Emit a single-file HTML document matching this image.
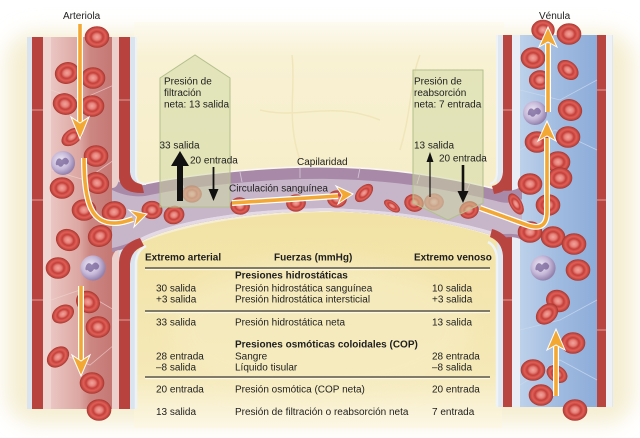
<!DOCTYPE html>
<html>
<head>
<meta charset="utf-8">
<style>
  html,body{margin:0;padding:0;background:#fff;}
  svg{display:block;}
  text{font-family:"Liberation Sans", Arial, sans-serif;font-size:10px;fill:#1e1e1e;}
  .b{font-weight:bold;}
</style>
</head>
<body>
<svg width="640" height="438" viewBox="0 0 640 438" xmlns="http://www.w3.org/2000/svg">
<defs>
  <radialGradient id="rbcg" cx="0.5" cy="0.5" r="0.5">
    <stop offset="0" stop-color="#f2a49c"/>
    <stop offset="0.28" stop-color="#e6827a"/>
    <stop offset="0.5" stop-color="#c43f39"/>
    <stop offset="0.72" stop-color="#df5f57"/>
    <stop offset="1" stop-color="#b23a35"/>
  </radialGradient>
  <radialGradient id="wbcg" cx="0.4" cy="0.4" r="0.6">
    <stop offset="0" stop-color="#f0ecf5"/>
    <stop offset="0.6" stop-color="#c6b8d8"/>
    <stop offset="1" stop-color="#9482ad"/>
  </radialGradient>
  <linearGradient id="artL" x1="0" x2="1" y1="0" y2="0">
    <stop offset="0" stop-color="#eac6c2"/>
    <stop offset="0.45" stop-color="#dca6a1"/>
    <stop offset="0.6" stop-color="#cd8884"/>
    <stop offset="1" stop-color="#c47572"/>
  </linearGradient>
  <linearGradient id="venL" x1="0" x2="1" y1="0" y2="0">
    <stop offset="0" stop-color="#bdd1ea"/>
    <stop offset="0.5" stop-color="#a0bbe0"/>
    <stop offset="1" stop-color="#8dacd9"/>
  </linearGradient>
  <linearGradient id="tisB" x1="0" x2="0" y1="0" y2="1">
    <stop offset="0" stop-color="#f2e2a4"/>
    <stop offset="0.75" stop-color="#f5e9b8"/>
    <stop offset="1" stop-color="#fcf7e6"/>
  </linearGradient>
  <linearGradient id="tisT" x1="0" x2="0" y1="0" y2="1">
    <stop offset="0" stop-color="#fdfaf0"/>
    <stop offset="0.2" stop-color="#f8f1d3"/>
    <stop offset="1" stop-color="#f6edc8"/>
  </linearGradient>
  <filter id="blur" x="-20%" y="-20%" width="140%" height="140%"><feGaussianBlur stdDeviation="10"/></filter>
  <g id="rbc"><ellipse rx="12" ry="10.5" fill="url(#rbcg)" stroke="#a8392f" stroke-width="0.6"/></g>
  <g id="wbc"><circle r="12" fill="url(#wbcg)"/><path d="M-7,-1 q2,-6 6,-2 q4,-5 7,1 q-1,5 -5,3 q-3,5 -6,1 q-3,1 -2,-3z" fill="#6f5a93" opacity="0.7"/></g>
</defs>

<!-- background -->
<rect width="640" height="438" fill="#ffffff"/>
<rect x="6" y="32" width="628" height="392" rx="30" fill="#f5eed2" filter="url(#blur)"/>
<rect x="134" y="22" width="370" height="180" fill="url(#tisT)"/>
<g stroke="#efe3b4" stroke-width="1.5" fill="none" opacity="0.8">
  <path d="M292,55 C296,90 286,120 300,160"/>
  <path d="M420,55 C410,80 412,110 400,150"/>
  <path d="M260,110 C300,120 330,100 380,120"/>
</g>

<!-- tissue below capillary -->
<path d="M134,246 C180,224 260,213 330,212 C400,213 460,224 502,240 L502,428 L134,428 Z" fill="url(#tisB)"/>
<ellipse cx="320" cy="330" rx="150" ry="70" fill="#f7edc4" opacity="0.6" filter="url(#blur)"/>

<!-- ARTERIOLE -->
<rect x="27" y="37" width="110" height="372" fill="#d9e4ee"/>
<rect x="32" y="37" width="11" height="372" fill="#b8433e"/>
<rect x="43" y="37" width="8" height="372" fill="#efd6d2"/>
<rect x="51" y="37" width="64" height="372" fill="url(#artL)"/>
<g stroke="#f0d4d0" stroke-width="0.8" fill="none" opacity="0.7">
  <path d="M51,90 L80,100 L114,85"/><path d="M51,170 L85,180 L114,160"/><path d="M51,300 L80,290 L114,310"/><path d="M51,350 L90,365 L114,345"/>
</g>

<!-- VENULE -->
<rect x="497" y="35" width="116" height="372" fill="#dfe8f0"/>
<rect x="503" y="35" width="9" height="372" fill="#b94540"/>
<rect x="512" y="35" width="8" height="372" fill="#e9eef6"/>
<rect x="520" y="35" width="77" height="372" fill="url(#venL)"/>
<rect x="597" y="35" width="9" height="372" fill="#b94540"/>
<rect x="606" y="35" width="6" height="372" fill="#eef2f6"/>
<g stroke="#c9d9ee" stroke-width="0.8" fill="none" opacity="0.8">
  <path d="M520,90 L560,100 L597,80"/><path d="M520,150 L555,130 L597,150"/><path d="M520,330 L560,320 L597,300"/><path d="M520,385 L560,360 L597,380"/>
</g>

<!-- CAPILLARY -->
<path d="M112,178 C125,186 132,186 140,185 C180,176 260,166 330,167 C400,168 460,180 500,190 C510,192 516,190 522,186 L522,240 C515,236 508,237 500,238 C460,224 400,213 330,211 C260,211 180,221 140,242 C130,247 122,250 112,252 Z" fill="#a88aa8"/>
<path d="M112,190 C125,196 135,197 145,196 C180,188 260,178 330,179 C400,180 460,192 500,202 C510,204 516,202 522,199 L522,236 C515,233 508,234 500,234 C460,221 400,210 330,208 C260,208 180,218 140,238 C130,243 122,246 112,248 Z" fill="#c7b6c9"/>
<path d="M140,238 C180,218 260,208 330,208 C400,210 460,221 500,234 L500,238 C460,224 400,213 330,211 C260,211 180,221 140,242 Z" fill="#e4dae6"/>
<path d="M140,185 C180,176 260,166 330,167 C400,168 460,180 500,190" fill="none" stroke="#fbf7f2" stroke-width="1.5"/>
<g stroke="#d8c8d8" stroke-width="0.8" fill="none">
  <path d="M180,178 L184,188"/><path d="M240,172 L242,182"/><path d="M300,168 L300,178"/><path d="M360,168 L358,178"/><path d="M420,174 L417,184"/><path d="M470,183 L466,193"/>
</g>

<!-- arteriole right wall segments -->
<path d="M119,37 L130,37 L130,172 Q131,183 142,184 L144,193 Q121,194 119,178 Z" fill="#b8433e"/>
<path d="M112,37 L119,37 L119,178 Q118,188 112,188 Z" fill="#ecd0cc"/>
<path d="M136,37 L136,174 Q136,184 146,184" fill="none" stroke="#eef3f7" stroke-width="2"/>
<path d="M119,409 L119,262 Q120,244 140,238 L144,246 Q131,250 130,264 L130,409 Z" fill="#b8433e"/>
<path d="M112,409 L112,258 Q114,250 119,250 L119,409 Z" fill="#ecd0cc"/>
<path d="M136,409 L136,262 Q137,250 146,246" fill="none" stroke="#eef3f7" stroke-width="2.5"/>

<!-- venule left wall segments -->
<path d="M503,35 L512,35 L512,176 Q510,192 494,194 L492,186 Q502,184 503,172 Z" fill="#b94540"/>
<path d="M497,35 L497,172 Q497,182 490,184" fill="none" stroke="#eef3f7" stroke-width="2"/>
<path d="M503,407 L503,256 Q502,242 490,237 L492,229 Q510,234 512,252 L512,407 Z" fill="#b94540"/>
<path d="M497,407 L497,258 Q496,246 488,242" fill="none" stroke="#eef3f7" stroke-width="2.5"/>

<g stroke="#e7b5b0" stroke-width="0.8">
  <path d="M32,110 H43"/><path d="M32,200 H43"/><path d="M32,300 H43"/><path d="M119,100 H130"/><path d="M119,320 H130"/>
  <path d="M503,110 H512"/><path d="M503,300 H512"/><path d="M597,90 H606"/><path d="M597,200 H606"/><path d="M597,330 H606"/>
</g>

<!-- RBCs arteriole -->
<use href="#rbc" transform="translate(97,37)"/>
<use href="#rbc" transform="translate(67,73) rotate(-20)"/>
<use href="#rbc" transform="translate(93,78)"/>
<use href="#rbc" transform="translate(65,104) rotate(15)"/>
<use href="#rbc" transform="translate(92,106)"/>
<use href="#rbc" transform="translate(72,137) rotate(-35) scale(0.95,0.7)"/>
<use href="#rbc" transform="translate(96,156)"/>
<use href="#rbc" transform="translate(62,188)"/>
<use href="#rbc" transform="translate(97,183) rotate(20)"/>
<use href="#rbc" transform="translate(84,210)"/>
<use href="#rbc" transform="translate(114,212) rotate(-10)"/>
<use href="#rbc" transform="translate(68,240) rotate(25)"/>
<use href="#rbc" transform="translate(100,236) rotate(-20)"/>
<use href="#rbc" transform="translate(58,268)"/>
<use href="#rbc" transform="translate(88,302) rotate(30)"/>
<use href="#rbc" transform="translate(63,314) rotate(-30) scale(0.95,0.8)"/>
<use href="#rbc" transform="translate(98,327)"/>
<use href="#rbc" transform="translate(58,357) rotate(-40) scale(1,0.85)"/>
<use href="#rbc" transform="translate(92,383)"/>
<use href="#rbc" transform="translate(99,410)"/>

<!-- RBCs capillary -->
<use href="#rbc" transform="translate(152,210) scale(0.85)"/>
<use href="#rbc" transform="translate(174,215) rotate(-15) scale(0.85)"/>
<use href="#rbc" transform="translate(192,194) scale(0.8)" opacity="0.7"/>
<use href="#rbc" transform="translate(240,206) rotate(10) scale(0.8)"/>
<use href="#rbc" transform="translate(296,203) rotate(-5) scale(0.8)"/>
<use href="#rbc" transform="translate(337,199) scale(0.8)"/>
<use href="#rbc" transform="translate(364,193) rotate(-45) scale(0.9,0.6)"/>
<use href="#rbc" transform="translate(392,206) rotate(35) scale(0.75,0.42)"/>
<use href="#rbc" transform="translate(414,203) rotate(20) scale(0.8)"/>
<use href="#rbc" transform="translate(434,202) scale(0.8)" opacity="0.6"/>
<use href="#rbc" transform="translate(469,210) rotate(-20) scale(0.8)"/>

<!-- RBCs venule -->
<use href="#rbc" transform="translate(543,30) scale(0.95)"/>
<use href="#rbc" transform="translate(569,34)"/>
<use href="#rbc" transform="translate(533,58)"/>
<use href="#rbc" transform="translate(568,70) rotate(40) scale(0.95,0.8)"/>
<use href="#rbc" transform="translate(540,80) scale(0.9)"/>
<use href="#rbc" transform="translate(570,110) rotate(20)"/>
<use href="#rbc" transform="translate(537,142)"/>
<use href="#rbc" transform="translate(568,137)"/>
<use href="#rbc" transform="translate(558,162)"/>
<use href="#rbc" transform="translate(560,178)"/>
<use href="#rbc" transform="translate(530,184)"/>
<use href="#rbc" transform="translate(548,205)"/>
<use href="#rbc" transform="translate(516,204) rotate(60) scale(0.95,0.55)"/>
<use href="#rbc" transform="translate(530,232)"/>
<use href="#rbc" transform="translate(553,237)"/>
<use href="#rbc" transform="translate(574,244)"/>
<use href="#rbc" transform="translate(578,270)"/>
<use href="#rbc" transform="translate(558,301) rotate(30)"/>
<use href="#rbc" transform="translate(547,314) rotate(-40) scale(1,0.85)"/>
<use href="#rbc" transform="translate(573,343)"/>
<use href="#rbc" transform="translate(533,370)"/>
<use href="#rbc" transform="translate(557,374) rotate(30) scale(0.9,0.75)"/>
<use href="#rbc" transform="translate(541,395)"/>
<use href="#rbc" transform="translate(575,410)"/>

<!-- WBCs -->
<use href="#wbc" transform="translate(63,163)"/>
<use href="#wbc" transform="translate(93,268) scale(1.05)"/>
<use href="#wbc" transform="translate(535,113)"/>
<use href="#wbc" transform="translate(543,268) scale(1.05)"/>

<!-- pressure boxes -->
<polygon points="160,78 195,55 230,78 230,207 160,207" fill="#cdd8a2" fill-opacity="0.5" stroke="#b3c08c" stroke-width="1"/>
<polygon points="413,70 483,70 483,203 448,220 413,203" fill="#cdd8a2" fill-opacity="0.5" stroke="#b3c08c" stroke-width="1"/>

<!-- black arrows -->
<rect x="177" y="162" width="6" height="39" fill="#111"/>
<polygon points="171,166 180,151 189,166" fill="#111"/>
<line x1="213.5" y1="167" x2="213.5" y2="192" stroke="#111" stroke-width="1.8"/>
<polygon points="208.5,189 213.5,201 218.5,189" fill="#111"/>
<line x1="430" y1="197" x2="430" y2="160" stroke="#111" stroke-width="1.2"/>
<polygon points="426.5,162 430,152 433.5,162" fill="#111"/>
<line x1="463" y1="165" x2="463" y2="193" stroke="#111" stroke-width="2.6"/>
<polygon points="457.5,191 463,203 468.5,191" fill="#111"/>

<!-- orange arrows -->
<g fill="none" stroke-linecap="butt" stroke-linejoin="round">
  <g stroke="#ffffff" stroke-width="6">
    <path d="M80,24 L80,124"/>
    <path d="M84,158 C84,205 92,224 116,223 C122,223 127,221 133,219"/>
    <path d="M81,286 L81,362"/>
    <path d="M232,203 L338,196"/>
    <path d="M480,208 L527,225 Q547,232 547,212 L547,138"/>
    <path d="M548,112 L548,44"/>
    <path d="M556,396 L556,346"/>
  </g>
  <g stroke="#f2a833" stroke-width="3.6">
    <path d="M80,24 L80,124"/>
    <path d="M84,158 C84,205 92,224 116,223 C122,223 127,221 133,219"/>
    <path d="M81,286 L81,362"/>
    <path d="M232,203 L338,196"/>
    <path d="M480,208 L527,225 Q547,232 547,212 L547,138"/>
    <path d="M548,112 L548,44"/>
    <path d="M556,396 L556,346"/>
  </g>
</g>
<g fill="#f2a833" stroke="#ffffff" stroke-width="1" stroke-linejoin="miter">
  <polygon points="71,117 80,139 89,117 80,123"/>
  <polygon points="147,214 129,210 136.5,217 134,227"/>
  <polygon points="72,355 81,376 90,355 81,361"/>
  <polygon points="353,194 336,186 342,195 338,204"/>
  <polygon points="538,141 547,121 556,141 547,136"/>
  <polygon points="539,47 548,27 557,47 548,42"/>
  <polygon points="547,350 556,329 565,350 556,345"/>
</g>

<!-- labels -->
<text x="63" y="19">Arteriola</text>
<text x="539" y="19">Vénula</text>

<text x="164" y="84.5">Presión de</text>
<text x="164" y="96">filtración</text>
<text x="164" y="107.5">neta: 13 salida</text>
<text x="159.5" y="148.5">33 salida</text>
<text x="190" y="163.5">20 entrada</text>

<text x="414" y="84.5">Presión de</text>
<text x="414" y="96">reabsorción</text>
<text x="414" y="107.5">neta: 7 entrada</text>
<text x="414" y="148.5">13 salida</text>
<text x="439" y="161.5">20 entrada</text>

<text x="297" y="165">Capilaridad</text>
<text x="229" y="191.5">Circulación sanguínea</text>

<!-- table -->
<text class="b" x="145" y="260.5">Extremo arterial</text>
<text class="b" x="274" y="260.5">Fuerzas (mmHg)</text>
<text class="b" x="414" y="260.5">Extremo venoso</text>
<line x1="145" y1="268" x2="490" y2="268" stroke="#5a5650" stroke-width="1.4"/>
<line x1="145" y1="269.6" x2="490" y2="269.6" stroke="#fffbe8" stroke-width="1"/>

<text class="b" x="235" y="278.5">Presiones hidrostáticas</text>
<text x="156" y="291.5">30 salida</text>
<text x="235" y="291.5">Presión hidrostática sanguínea</text>
<text x="432" y="291.5">10 salida</text>
<text x="156" y="302.5">+3 salida</text>
<text x="235" y="302.5">Presión hidrostática intersticial</text>
<text x="432" y="302.5">+3 salida</text>
<line x1="145" y1="311" x2="490" y2="311" stroke="#5a5650" stroke-width="1.4"/>
<line x1="145" y1="312.6" x2="490" y2="312.6" stroke="#fffbe8" stroke-width="1"/>

<text x="156" y="325.5">33 salida</text>
<text x="235" y="325.5">Presión hidrostática neta</text>
<text x="432" y="325.5">13 salida</text>

<text class="b" x="235" y="347.5">Presiones osmóticas coloidales (COP)</text>
<text x="156" y="359.5">28 entrada</text>
<text x="235" y="359.5">Sangre</text>
<text x="432" y="359.5">28 entrada</text>
<text x="156" y="370.5">–8 salida</text>
<text x="235" y="370.5">Líquido tisular</text>
<text x="432" y="370.5">–8 salida</text>
<line x1="145" y1="377" x2="490" y2="377" stroke="#5a5650" stroke-width="1.4"/>
<line x1="145" y1="378.6" x2="490" y2="378.6" stroke="#fffbe8" stroke-width="1"/>

<text x="156" y="392.5">20 entrada</text>
<text x="235" y="392.5">Presión osmótica (COP neta)</text>
<text x="432" y="392.5">20 entrada</text>

<text x="156" y="415">13 salida</text>
<text x="235" y="415">Presión de filtración o reabsorción neta</text>
<text x="432" y="415">7 entrada</text>
</svg>
</body>
</html>
